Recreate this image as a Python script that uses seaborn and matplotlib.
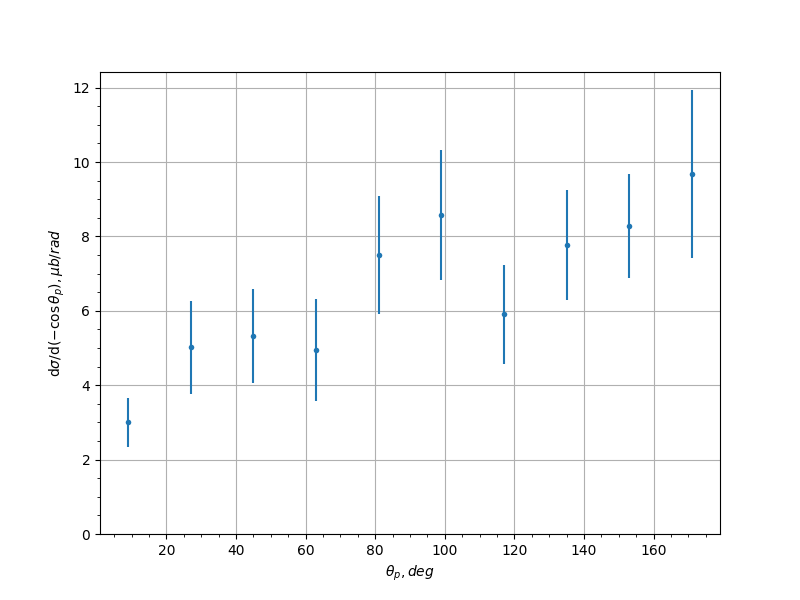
import numpy as np
import pandas as pd
import matplotlib
matplotlib.use('Agg')
import matplotlib.pyplot as plt
import seaborn as sns

# angle bins and measured cross section
theta = [9, 27, 45, 63, 81, 99, 117, 135, 153, 171]
xsec = [3.00, 5.02, 5.32, 4.94, 7.50, 8.57, 5.91, 7.77, 8.28, 9.68]
err = [0.65, 1.245, 1.26, 1.37, 1.58, 1.745, 1.33, 1.49, 1.39, 2.26]

df = pd.DataFrame({'theta': theta, 'xsec': xsec, 'err': err})

fig, ax = plt.subplots(figsize=(8, 6), dpi=100)
ax.errorbar(df['theta'], df['xsec'], yerr=df['err'], fmt='none', ecolor='C0')
sns.scatterplot(data=df, x='theta', y='xsec', ax=ax, color='C0', marker='o', s=16, linewidth=0)
ax.set_ylim(bottom=0)
ax.minorticks_on()
ax.grid(True)
ax.set_xlabel(r'$\theta_p, deg$')
ax.set_ylabel(r'd$\sigma$/d$(-\cos\theta_p), \mu b/rad$')
plt.savefig('out.png')
